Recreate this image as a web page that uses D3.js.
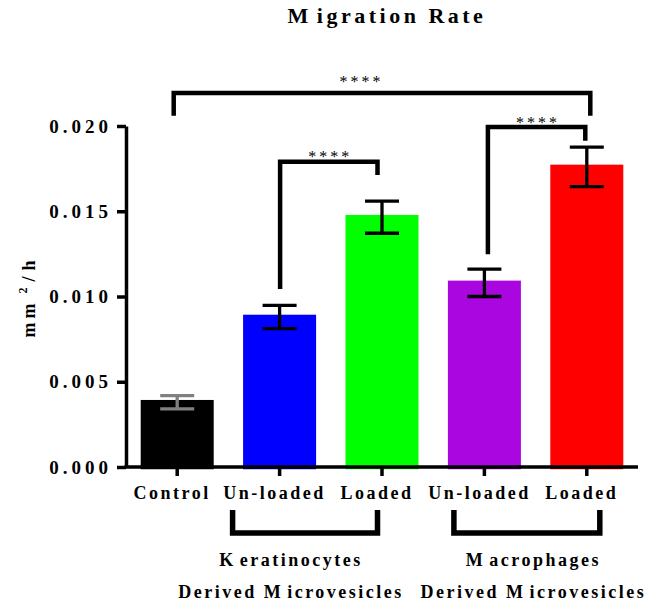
<!DOCTYPE html>
<html>
<head>
<meta charset="utf-8">
<script src="https://cdn.jsdelivr.net/npm/d3@7"></script>
<style>
  html, body { margin: 0; padding: 0; background: #fff; }
  svg { display: block; }
  text { font-family: "Liberation Serif", "Times New Roman", serif; font-weight: bold; fill: #000; }
</style>
</head>
<body>
<svg id="chart" width="657" height="604"></svg>
<script>
// ---------------- data ----------------
const ids        = ["ctrl", "kerU", "kerL", "macU", "macL"];
const categories = ["Control", "Un-loaded", "Loaded", "Un-loaded", "Loaded"];
const means      = [0.0038, 0.0088, 0.01465, 0.0108, 0.0176];
const errors     = [0.00039, 0.00068, 0.00094, 0.0008, 0.00116];
const barColors  = ["#000000", "#0000ff", "#00ff00", "#aa06e0", "#ff0000"];
const errColors  = ["#808080", "#000000", "#000000", "#000000", "#000000"];
const yTicks     = [0, 0.005, 0.010, 0.015, 0.020];
const groupNames   = ["Keratinocytes", "Macrophages"];
const groupSub     = ["Derived Microvesicles", "Derived Microvesicles"];
const groupMembers = [["kerU", "kerL"], ["macU", "macL"]];
const compFrom   = ["ctrl", "kerU", "macU"];
const compTo     = ["macL", "kerL", "macL"];
const compLevel  = [0.02194, 0.01791, 0.01994];
const compEndA   = [0.0206, 0.01044, 0.01248];
const compEndB   = [0.0206, 0.01713, 0.01914];
const compLabel  = ["****", "****", "****"];
const titleText  = "Migration Rate";

// ---------------- layout ----------------
const svg = d3.select("#chart");
const X0 = 126, X1 = 638, Y0 = 467, Y1 = 126;

const x = d3.scaleBand().domain(ids).range([X0, X1]).paddingInner(0.331).paddingOuter(0.1655);
const y = d3.scaleLinear().domain([0, 0.02]).range([Y0, Y1]);
const cx = id => x(id) + x.bandwidth() / 2;

// helper: text with a little extra gap after leading capitals M / K (as in reference)
function spacedText(g, str, ls, gap) {
  const parts = str.split(/(M|K)/).filter(s => s.length);
  parts.forEach(p => {
    g.append("tspan").attr("letter-spacing", (p === "M" || p === "K") ? ls + gap : ls).text(p);
  });
  return g;
}

// title
spacedText(
  svg.append("text").attr("x", 385 + 2).attr("y", 23).attr("text-anchor", "middle").attr("font-size", 22),
  titleText, 3.5, 5);

// bars (filled, with same-colour outline as in the reference)
svg.append("g").selectAll("rect").data(ids).join("rect")
  .attr("x", d => x(d))
  .attr("width", x.bandwidth())
  .attr("y", (d, i) => y(means[i]))
  .attr("height", (d, i) => y(0) - y(means[i]))
  .attr("fill", (d, i) => barColors[i])
  .attr("stroke", (d, i) => barColors[i])
  .attr("stroke-width", 4.5);

// error bars
const eg = svg.append("g").attr("stroke-width", 3.3).attr("fill", "none");
ids.forEach((id, i) => {
  const c = cx(id), hi = y(means[i] + errors[i]), lo = y(means[i] - errors[i]);
  eg.append("path")
    .attr("stroke", errColors[i])
    .attr("d", `M${c},${hi}V${lo}M${c - 17},${hi}H${c + 17}M${c - 17},${lo}H${c + 17}`);
});

// y axis
const yAxis = svg.append("g").attr("transform", `translate(${X0},0)`)
  .call(d3.axisLeft(y).tickValues(yTicks).tickFormat(d3.format(".3f")).tickSize(9).tickSizeOuter(0).tickPadding(5));
yAxis.selectAll("path, line").attr("stroke", "#000").attr("stroke-width", 3.5);
yAxis.selectAll("text").attr("font-size", 19).attr("letter-spacing", 4)
  .style("font-family", '"Liberation Serif", "Times New Roman", serif').style("font-weight", "bold");

// x axis
const xAxis = svg.append("g").attr("transform", `translate(0,${Y0})`)
  .call(d3.axisBottom(x).tickSize(9).tickSizeOuter(0).tickFormat(""));
xAxis.selectAll("path, line").attr("stroke", "#000").attr("stroke-width", 3.5);
xAxis.select(".domain").attr("d", `M${X0 - 1.75},0H${X1}`);

// x labels
svg.append("g").selectAll("text").data(ids).join("text")
  .attr("x", d => cx(d) - 5)
  .attr("y", 499)
  .attr("text-anchor", "middle")
  .attr("font-size", 18)
  .attr("letter-spacing", 2.5)
  .text((d, i) => categories[i]);

// y label
const yl = svg.append("text")
  .attr("transform", "rotate(-90)")
  .attr("x", -299).attr("y", 35)
  .attr("text-anchor", "middle")
  .attr("font-size", 18);
yl.append("tspan").attr("letter-spacing", 4).text("mm");
yl.append("tspan").attr("font-size", 12).attr("dy", -8).attr("dx", 6).attr("letter-spacing", 2).text("2");
yl.append("tspan").attr("dy", 8).attr("dx", 4).attr("letter-spacing", 4).text("/");
yl.append("tspan").attr("dx", 2).text("h");

// significance brackets
const bracketDx = [[-3.5, 3.5], [0.5, -4.5], [3.5, -1.5]];
const starDx = [-22, 0, 0];
const starDy = [-6, 0.6, 1];
const bg = svg.append("g");
compFrom.forEach((a, i) => {
  const xa = cx(a) + bracketDx[i][0], xb = cx(compTo[i]) + bracketDx[i][1];
  const yt = y(compLevel[i]);
  bg.append("path")
    .attr("fill", "none").attr("stroke", "#000").attr("stroke-width", 4.5)
    .attr("stroke-linejoin", "miter")
    .attr("d", `M${xa},${y(compEndA[i])}V${yt}H${xb}V${y(compEndB[i])}`);
  bg.append("text")
    .attr("x", (xa + xb) / 2 + starDx[i] + 1.5)
    .attr("y", yt + starDy[i])
    .attr("text-anchor", "middle")
    .attr("font-size", 16)
    .attr("letter-spacing", 3)
    .style("font-weight", "normal")
    .text(compLabel[i]);
});

// group brackets and labels
const groupDx = [[-47, -4.5], [-30.5, 13]];
const groupLabelDx = [-41, -3.5];
const gg = svg.append("g");
groupMembers.forEach((m, i) => {
  const xa = cx(m[0]) + groupDx[i][0], xb = cx(m[1]) + groupDx[i][1];
  gg.append("path")
    .attr("fill", "none").attr("stroke", "#000").attr("stroke-width", 5.5)
    .attr("stroke-linejoin", "miter")
    .attr("d", `M${xa},510V533H${xb}V510`);
  const mid = (cx(m[0]) + cx(m[1])) / 2 + groupLabelDx[i] + 1.25;
  spacedText(gg.append("text").attr("x", mid).attr("y", 566).attr("text-anchor", "middle").attr("font-size", 18),
    groupNames[i], 2.5, 4);
  spacedText(gg.append("text").attr("x", mid).attr("y", 598).attr("text-anchor", "middle").attr("font-size", 18),
    groupSub[i], 2.5, 4);
});
</script>
</body>
</html>
